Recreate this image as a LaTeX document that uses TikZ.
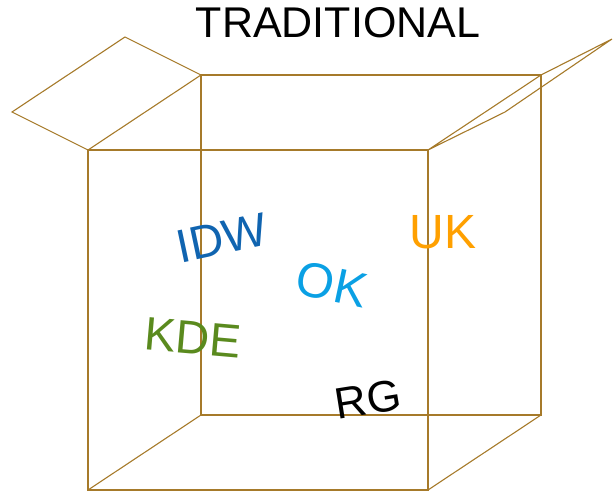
\documentclass[tikz,border=0pt]{standalone}
\usepackage{fontspec}
\setmainfont{Liberation Sans}
\definecolor{boxline}{HTML}{A67A2A}
\definecolor{idwblue}{HTML}{1064B0}
\definecolor{okblue}{HTML}{0AA0E4}
\definecolor{kdegreen}{HTML}{5A8A1E}
\definecolor{ukorange}{HTML}{FFA000}
\begin{document}
\begin{tikzpicture}[x=1pt,y=-1pt,
  edge/.style={draw=boxline,line width=1.1pt,line join=miter},
  lbl/.style={inner sep=0pt,anchor=center}]
\useasboundingbox (0,0) rectangle (613,494);
% front face corners
\coordinate (ftl) at (88,150);
\coordinate (ftr) at (428,150);
\coordinate (fbl) at (88,490);
\coordinate (fbr) at (428,490);
% back face corners
\coordinate (btl) at (201,75);
\coordinate (btr) at (541,75);
\coordinate (bbl) at (201,415);
\coordinate (bbr) at (541,415);
% flap tips
\coordinate (lf1) at (12,112);
\coordinate (lf2) at (125,37);
\coordinate (rf1) at (612,39);
\coordinate (rf2) at (505,112);
% back face
\draw[edge] (btl) -- (btr) -- (bbr) -- (bbl) -- cycle;
% depth edges
\draw[edge] (fbl) -- (bbl);
\draw[edge] (fbr) -- (bbr);
% front face
\draw[edge] (ftl) -- (ftr) -- (fbr) -- (fbl) -- cycle;
% left flap
\draw[edge] (ftl) -- (lf1) -- (lf2) -- (btl) -- cycle;
% right flap
\draw[edge] (ftr) -- (btr) -- (rf1) -- (rf2) -- cycle;
% labels
\node[lbl,font=\fontsize{43}{43}\selectfont] (title) at (338,22.5) {TRADITIONAL};
\node[lbl,text=idwblue,rotate=12,font=\fontsize{47}{47}\selectfont] (idw) at (222,238) {IDW};
\node[lbl,text=okblue,rotate=-12,font=\fontsize{49}{49}\selectfont] (ok) at (332,284) {OK};
\node[lbl,text=kdegreen,rotate=-5,font=\fontsize{47}{47}\selectfont] (kde) at (193,338) {KDE};
\node[lbl,rotate=9,font=\fontsize{44}{44}\selectfont] (rg) at (368,399) {RG};
\node[lbl,text=ukorange,font=\fontsize{48}{48}\selectfont] (uk) at (443,232) {UK};
\end{tikzpicture}
\end{document}
